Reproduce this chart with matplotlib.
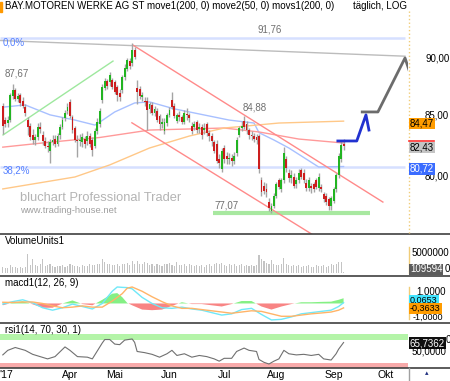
import numpy as np
import matplotlib.pyplot as plt

plt.rcParams['font.family'] = ['Liberation Sans', 'DejaVu Sans']

# daily candles, index 0 = 23.02.2017 ... 137 = 07.09.2017
opens = [85.8, 84.6, 84.3, 84.6, 86.6, 87.1, 86.4, 86.7, 86.2, 85.7,
         84.6, 84.1, 83.3, 82.9, 83.1, 84.0, 83.3, 82.8, 82.4, 82.0,
         82.7, 83.0, 82.6, 83.3, 84.0, 84.7, 85.3, 86.1, 84.8, 83.9,
         82.9, 82.8, 82.7, 83.0, 82.8, 83.2, 82.9, 82.4, 83.6, 84.2,
         86.3, 87.3, 87.9, 87.8, 88.0, 87.8, 87.4, 86.9, 87.1, 88.3,
         89.0, 89.7, 89.5, 90.7, 87.3, 87.2, 86.5, 86.2, 86.2, 85.5,
         85.85, 85.2, 85.3, 84.9, 84.2, 83.6, 84.3, 85.0, 86.3, 85.8,
         84.5, 85.0, 84.8, 84.4, 85.1, 85.0, 84.1, 84.0, 84.4, 83.8,
         84.0, 83.7, 84.2, 83.5, 83.2, 82.7, 82.6, 81.3, 80.5, 82.2,
         81.6, 81.3, 81.4, 81.2, 81.8, 83.3, 83.9, 84.5, 84.2, 83.7,
         83.3, 83.2, 83.1, 83.2, 79.6, 79.2, 78.9, 77.9, 77.2, 77.6,
         78.4, 79.6, 78.9, 79.6, 81.3, 80.2, 79.8, 79.9, 79.3, 79.6,
         80.4, 80.2, 79.4, 79.0, 79.2, 79.3, 79.6, 79.0, 79.1, 78.5,
         78.4, 78.1, 77.6, 78.0, 78.9, 80.0, 81.3, 82.6]
highs = [86.0, 84.8, 84.9, 86.9, 87.67, 87.3, 86.9, 86.9, 86.5, 85.9,
         84.8, 84.3, 83.8, 83.4, 84.3, 84.4, 83.6, 83.1, 82.8, 83.0,
         83.3, 83.3, 83.5, 84.2, 84.8, 85.4, 86.0, 86.4, 85.0, 84.1,
         83.3, 83.4, 83.5, 83.2, 83.6, 83.5, 83.1, 83.9, 84.7, 85.6,
         87.7, 88.2, 88.1, 88.7, 88.2, 88.0, 87.6, 87.2, 88.5, 89.4,
         90.0, 90.0, 91.3, 91.0, 88.0, 87.5, 87.0, 86.5, 86.5, 86.1,
         86.1, 85.8, 85.6, 85.1, 84.7, 84.7, 85.2, 85.7, 87.0, 86.0,
         85.2, 85.3, 85.0, 85.4, 85.6, 85.2, 84.4, 84.5, 84.6, 84.3,
         84.2, 84.3, 84.4, 83.7, 83.5, 82.9, 82.9, 81.7, 82.2, 82.5,
         81.9, 81.8, 81.7, 81.9, 83.1, 84.1, 84.5, 84.88, 84.5, 83.9,
         83.6, 83.5, 83.4, 83.4, 79.9, 79.5, 79.4, 78.2, 77.8, 78.6,
         79.5, 79.8, 79.8, 82.3, 81.6, 80.5, 80.4, 80.2, 79.9, 80.5,
         80.6, 80.5, 79.7, 79.9, 79.4, 79.5, 79.8, 80.2, 79.3, 78.7,
         78.6, 78.3, 78.4, 79.1, 80.2, 81.8, 82.8, 83.0]
lows = [83.4, 84.0, 84.0, 84.4, 86.4, 86.2, 86.1, 85.8, 85.6, 84.9,
        83.3, 82.9, 82.6, 82.5, 82.9, 83.5, 82.5, 82.2, 81.9, 81.0,
        82.5, 82.3, 82.4, 83.0, 83.8, 84.5, 85.1, 84.7, 83.5, 82.7,
        81.5, 82.4, 82.3, 82.2, 82.5, 82.3, 81.6, 82.2, 83.4, 84.0,
        86.0, 87.1, 87.2, 87.5, 87.2, 86.8, 86.2, 86.2, 86.9, 88.0,
        88.8, 89.0, 89.3, 89.9, 85.9, 86.4, 86.2, 85.8, 83.7, 85.2,
        85.0, 84.9, 84.4, 83.7, 83.9, 83.4, 84.1, 84.8, 85.5, 84.7,
        84.3, 84.5, 84.2, 84.2, 84.6, 84.4, 83.4, 83.7, 83.5, 83.5,
        83.0, 83.4, 83.2, 82.8, 82.4, 81.8, 81.0, 80.6, 80.3, 81.0,
        80.9, 80.9, 80.8, 80.9, 81.6, 83.1, 83.6, 83.8, 83.4, 83.0,
        82.9, 82.7, 82.6, 80.2, 78.4, 78.5, 78.3, 77.2, 77.07, 77.4,
        78.2, 78.9, 78.7, 79.4, 80.3, 79.5, 79.4, 79.0, 79.0, 79.4,
        79.7, 79.4, 78.8, 78.8, 78.6, 78.7, 78.9, 78.8, 78.7, 77.9,
        77.7, 77.3, 77.3, 77.8, 78.7, 79.8, 81.1, 82.1]
closes = [84.1, 84.2, 84.6, 86.7, 87.1, 86.4, 86.6, 86.0, 85.8, 85.2,
          84.0, 83.1, 82.9, 83.1, 84.0, 83.8, 82.8, 82.4, 82.3, 82.7,
          82.9, 82.6, 83.2, 84.0, 84.6, 85.2, 85.7, 84.9, 83.7, 82.9,
          82.8, 82.9, 83.1, 82.6, 83.2, 82.6, 82.1, 83.6, 84.4, 85.3,
          87.4, 87.9, 87.5, 88.5, 87.4, 87.0, 86.7, 86.5, 88.3, 89.1,
          89.8, 89.3, 90.7, 90.1, 87.0, 86.6, 86.7, 86.1, 85.4, 85.9,
          85.2, 85.5, 84.6, 84.2, 84.4, 84.4, 85.0, 85.4, 85.7, 84.9,
          85.0, 84.8, 84.4, 85.2, 85.0, 84.7, 83.6, 84.2, 83.7, 84.0,
          83.3, 83.9, 83.5, 83.2, 82.8, 82.0, 81.2, 81.0, 82.0, 81.3,
          81.3, 81.4, 81.2, 81.6, 82.9, 83.9, 84.1, 84.0, 83.7, 83.3,
          83.2, 83.0, 82.9, 80.5, 78.7, 78.8, 78.7, 77.4, 77.6, 78.4,
          79.3, 79.1, 79.6, 81.8, 80.6, 79.8, 80.0, 79.2, 79.6, 80.2,
          79.9, 79.6, 79.0, 79.6, 79.0, 78.9, 79.1, 79.9, 78.9, 78.1,
          77.9, 77.6, 78.2, 78.9, 80.0, 81.6, 82.5, 82.43]
# volume in million shares
volume = [1.2, 1.0, 1.1, 1.7, 1.3, 1.2, 1.1, 1.3, 1.0, 1.3,
          4.1, 1.7, 3.0, 1.6, 1.5, 2.0, 3.1, 1.5, 1.6, 2.0,
          1.4, 1.3, 1.5, 1.4, 1.6, 1.3, 1.5, 1.8, 1.6, 1.4,
          1.5, 1.3, 1.6, 1.4, 1.5, 1.8, 1.7, 1.6, 1.9, 2.0,
          3.0, 2.4, 1.8, 1.9, 1.7, 1.6, 1.8, 1.5, 2.0, 1.9,
          2.2, 1.7, 2.6, 1.9, 2.6, 2.0, 1.8, 2.3, 2.1, 1.6,
          1.8, 1.5, 2.0, 1.7, 1.4, 1.8, 1.9, 2.1, 1.6, 1.5,
          2.4, 1.7, 1.6, 1.9, 1.5, 1.8, 1.7, 1.4, 1.6, 1.5,
          1.7, 1.3, 1.6, 1.9, 1.4, 1.8, 2.2, 1.9, 2.1, 1.7,
          1.5, 1.8, 1.6, 1.9, 1.4, 1.6, 1.8, 1.5, 1.7, 1.4,
          1.6, 1.5, 1.7, 3.8, 3.1, 2.6, 2.2, 2.0, 2.8, 1.9,
          1.7, 1.6, 2.0, 3.2, 1.9, 1.6, 1.5, 1.7, 1.4, 1.6,
          1.3, 1.5, 1.4, 1.7, 1.3, 1.2, 1.6, 1.5, 1.4, 1.7,
          1.3, 1.5, 1.8, 1.6, 1.9, 2.3, 2.4, 0.11]

# moving averages, read at a few days
ma50_days = [0, 9, 19, 29, 37, 39, 45, 53, 59, 69, 91, 101, 103, 109, 115, 127, 137]
ma50 = [85.66, 85.85, 85.0, 84.56, 84.14, 84.39, 85.25, 86.02, 86.11, 85.51,
        84.56, 84.31, 83.5, 82.89, 82.23, 80.68, 80.72]
ma200_days = [0, 19, 39, 59, 89, 103, 119, 137]
ma200 = [82.30, 82.71, 83.1, 83.72, 83.89, 83.56, 82.97, 82.64]
movs_days = [0, 29, 43, 59, 75, 89, 111, 137]
movs200 = [78.93, 79.88, 80.85, 82.23, 83.22, 83.89, 84.31, 84.47]

macd_days = [0, 4, 8, 12, 16, 20, 24, 28, 32, 36, 40, 44, 46, 48, 50, 52, 56, 60, 64,
             68, 72, 76, 80, 84, 88, 92, 96, 100, 104, 108, 112, 116, 120, 124, 128,
             132, 135, 137]
macd = [-0.05, 0.15, 0.30, 0.05, -0.35, -0.55, -0.35, -0.05, -0.25, -0.45, 0.0, 1.0,
        1.35, 1.32, 1.3, 1.2, 0.5, 0.0, -0.35, -0.4, -0.3, -0.45, -0.55, -0.75, -0.95,
        -0.85, -0.5, -0.4, -0.9, -1.35, -1.3, -1.1, -0.85, -0.75, -0.65, -0.55, -0.25,
        0.0653]
signal = [0.10, 0.08, 0.12, 0.12, 0.0, -0.2, -0.35, -0.3, -0.2, -0.3, -0.3, 0.2, 0.5,
          0.8, 1.25, 1.35, 1.0, 0.55, 0.15, -0.2, -0.4, -0.4, -0.5, -0.6, -0.7, -0.8,
          -0.7, -0.6, -0.65, -0.85, -1.05, -1.05, -0.95, -0.85, -0.78, -0.7, -0.55,
          -0.3633]

rsi_days = [0, 2, 5, 9, 12, 15, 18, 21, 25, 27, 30, 34, 36, 40, 41, 43, 45, 47, 49, 52,
            53, 54, 57, 60, 63, 66, 68, 70, 73, 76, 79, 82, 85, 87, 89, 92, 94, 97, 99,
            102, 103, 105, 107, 109, 111, 113, 115, 118, 121, 124, 127, 129, 132, 134,
            135, 137]
rsi = [44, 52, 57, 52, 45, 41, 37, 41, 58, 52, 41, 40, 37, 65, 71, 71, 63, 62, 70, 72,
       66, 50, 48, 45, 40, 46, 52, 43, 46, 40, 43, 41, 37, 33, 38, 38, 50, 56, 52,
       50, 36, 31, 28, 33, 37, 52, 46, 44, 45, 43, 45, 37, 35, 46, 54, 65.7362]

month_pos = [27, 45, 67, 89, 110, 133, 154]
month_lab = ['Apr', 'Mai', 'Jun', 'Jul', 'Aug', 'Sep', 'Okt']

W, H = 450, 381
fig = plt.figure(figsize=(4.5, 3.81), dpi=100)
XL = (-1.125, 162.9)


def panel(top, bot):
    a = fig.add_axes([0, 1 - bot / H, 408 / W, (bot - top) / H])
    a.set_xlim(*XL)
    a.set_xticks([])
    a.set_yticks([])
    for s in a.spines.values():
        s.set_visible(False)
    return a


ax = panel(11, 234)
axv = panel(234, 276)
axm = panel(276, 323)
axr = panel(323, 368)

# ---- price panel
ax.set_yscale('log')
ax.set_ylim(75.45, 94.31)
ax.set_yticks([])
ax.yaxis.set_minor_locator(plt.NullLocator())
x = np.arange(len(closes))
o, h, l, c = map(np.array, (opens, highs, lows, closes))
ax.vlines(x, l, h, color='#a4a4a4', lw=1.0, zorder=3)
up = c >= o
ax.bar(x[up], (c - o)[up], bottom=o[up], width=0.75, color='#22b422', lw=0, zorder=4)
ax.bar(x[~up], (o - c)[~up], bottom=c[~up], width=0.75, color='#cc1e1e', lw=0, zorder=4)

ax.plot(ma50_days, ma50, color='#a8c0ff', lw=1, zorder=2)
ax.plot(ma200_days, ma200, color='#ff9a9a', lw=1, zorder=2)
ax.plot(movs_days, movs200, color='#ffc888', lw=1, zorder=2)

ax.hlines([91.76, 80.72], XL[0], 161.7, color='#d6e0ff', lw=1.8, zorder=1)
ax.hlines(77.07, 84.5, 147.6, color='#a8e8a0', lw=3, zorder=1)
ax.plot([-1.13, 161.7], [91.57, 90.14], color='#bcbcbc', lw=1, zorder=2)
ax.plot([0.1, 44.3], [83.31, 89.70], color='#9ee89e', lw=1, zorder=2)
ax.plot([52.3, 152.8], [91.15, 77.90], color='#ff8a8a', lw=1, zorder=2)
ax.plot([51.9, 127.5], [84.33, 75.06], color='#ff8a8a', lw=1, zorder=2)
ax.plot([144.5, 150.8, 161.7, 163.3], [85.25, 85.25, 89.98, 88.90],
        color='#6c6c6c', lw=2, zorder=5)
ax.plot([134.7, 142.3, 146.0, 147.2], [82.81, 82.81, 85.0, 83.72],
        color='#2232d0', lw=2, zorder=5)

ax.text(107.4, 92.62, '91,76', color='#707070', fontsize=7, ha='center', va='center')
ax.text(0.0, 91.34, '0,0%', color='#5580ff', fontsize=7, ha='left', va='center')
ax.text(0.0, 80.36, '38,2%', color='#5580ff', fontsize=7, ha='left', va='center')
ax.text(0.8, 88.55, '87,67', color='#707070', fontsize=7, ha='left', va='center')
ax.text(96.5, 85.66, '84,88', color='#707070', fontsize=7, ha='left', va='center')
ax.text(85.3, 77.6, '77,07', color='#707070', fontsize=7, ha='left', va='center')
ax.text(6.9, 78.23, 'bluchart Professional Trader', color='#b4b4b4', fontsize=9.3,
        ha='left', va='center')
ax.text(6.9, 77.21, 'www.trading-house.net', color='#a0a0a0', fontsize=6.8,
        ha='left', va='center')

# ---- volume
axv.set_ylim(-0.73, 8.5)
axv.bar(x, volume, width=0.45, color='#c4c4c4', lw=0)
axv.text(0.9, 7.0, 'VolumeUnits1', fontsize=7, va='center')

# ---- macd
axm.set_ylim(-1.6, 2.25)
hist = np.array(macd) - np.array(signal)
axm.fill_between(macd_days, 0, hist, where=hist >= 0, interpolate=True, color='#84f084', lw=0)
axm.fill_between(macd_days, 0, hist, where=hist < 0, interpolate=True, color='#f88484', lw=0)
axm.plot(macd_days, macd, color='#70e8f8', lw=1)
axm.plot(macd_days, signal, color='#ffb468', lw=1)
axm.text(0.9, 1.7, 'macd1(12, 26, 9)', fontsize=7, va='center')

# ---- rsi
axr.set_ylim(21, 100)
axr.axhspan(70, 80, color='#b4f4a8', lw=0)
axr.axhspan(0, 30, color='#f8aaaa', lw=0)
axr.plot(rsi_days, rsi, color='#707070', lw=0.8)
axr.text(0.9, 88, 'rsi1(14, 70, 30, 1)', fontsize=7, va='center')

# ---- frame lines
for yy in (234, 276, 323, 368):
    fig.add_artist(plt.Line2D([0, 1], [1 - yy / H] * 2, color='#404040', lw=1.2))
ax_col = '#f0cc78'
fig.add_artist(plt.Line2D([408.5 / W] * 2, [1 - 11 / H, 1 - 233 / H], color=ax_col, lw=1, ls=':'))
fig.add_artist(plt.Line2D([408.5 / W] * 2, [1 - 247 / H, 1 - 273 / H], color=ax_col, lw=1))
fig.add_artist(plt.Line2D([408.5 / W] * 2, [1 - 287 / H, 1 - 319 / H], color=ax_col, lw=1))
fig.add_artist(plt.Line2D([408.5 / W] * 2, [0, 1 - 368 / H], color='#a0a0a0', lw=1))
fig.add_artist(plt.Rectangle((0, 1 - 12 / H), 1.5 / W, 10 / H, color='#ff9900'))
# red marker of the 200-day line, mostly hidden behind the close label
fig.add_artist(plt.Line2D([409 / W, 434 / W], [1 - 140.5 / H] * 2, color='#ff3030', lw=1.2))

# ---- title
fig.text(5 / W, 1 - 6 / H, 'BAY.MOTOREN WERKE AG ST move1(200, 0) move2(50, 0) movs1(200, 0)',
         fontsize=7, va='center')
fig.text(353 / W, 1 - 6 / H, 't\u00e4glich, LOG', fontsize=7, va='center')

# ---- x labels
for p, lab in zip(month_pos, month_lab):
    fig.text((2.8 + 2.488 * p) / W, 1 - 375 / H, lab, fontsize=7.5, ha='center', va='center')
fig.text(-1 / W, 1 - 375 / H, "'17", fontsize=7.5, ha='left', va='center')
fig.text(427 / W, 1 - 374 / H, '\u25b4', fontsize=5, color='#203080', ha='center', va='center')


# ---- right scale labels
def rlabel(yy, s, fc=None, tc='black', xx=425, fs=7):
    kw = dict(fontsize=fs, va='center', ha='left', color=tc)
    if fc:
        kw['bbox'] = dict(boxstyle='square,pad=0.1', fc=fc, ec='none')
    fig.text(xx / W, 1 - yy / H, s, **kw)


for v, lab in ((90, '90,00'), (85, '85,00'), (80, '80,00')):
    rlabel(175.5 - 1000 * np.log(v / 80) + 1, lab)
rlabel(123.5, '84,47', '#ff9c00', xx=410)
rlabel(147.5, '82,43', '#c4c4c4', xx=410)
rlabel(169, '80,72', '#3a6cff', 'white', xx=410)
rlabel(253, '5000000', xx=412)
rlabel(269.5, '0', xx=445)
rlabel(269.5, '109594', '#5c5c5c', 'white', xx=410)
rlabel(291, '1,0000', xx=416)
rlabel(300, '0,0653', '#40e4ff', xx=410, fs=6.5)
rlabel(308.5, '-0,3633', '#ff9c00', xx=410, fs=6.5)
rlabel(317.5, '-1,0000', xx=413, fs=6.5)
rlabel(340, '0', xx=446)
rlabel(343, '65,7362', '#101010', 'white', xx=410)
rlabel(352, '50,0000', xx=412)

fig.savefig('out.png', dpi=100)
